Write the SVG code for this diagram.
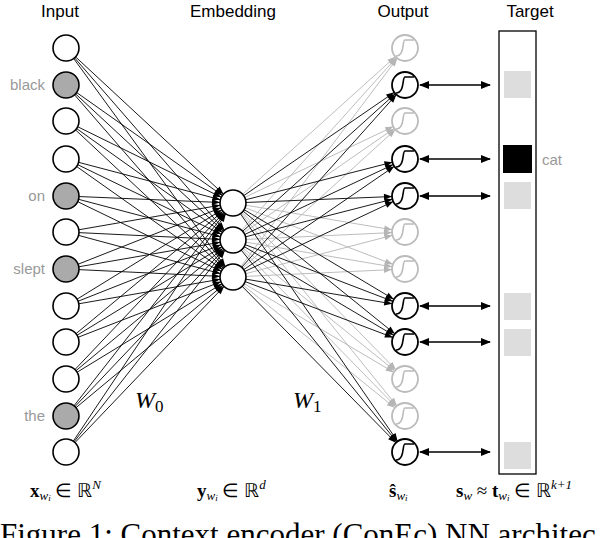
<svg xmlns="http://www.w3.org/2000/svg" width="606" height="538" viewBox="0 0 606 538">
<style>
.t{font-family:"Liberation Sans",Arial,sans-serif;font-size:17px;fill:#000;text-anchor:middle}
.w{font-family:"Liberation Sans",Arial,sans-serif;font-size:15px;fill:#999;}
.m{font-family:"Liberation Serif","Times New Roman",serif;fill:#000}
.k line{stroke:#000;stroke-width:0.9;marker-end:url(#ak)}
.g line{stroke:#b5b5b5;stroke-width:0.9;marker-end:url(#ag)}
.n{fill:#fff;stroke:#000;stroke-width:1.6}
.f{fill:#aaa;stroke:#000;stroke-width:1.6}
.ob{fill:#fff;stroke:#000;stroke-width:1.8}
.og{fill:#fff;stroke:#bbb;stroke-width:1.8}
.sb{fill:none;stroke:#000;stroke-width:1.6}
.sg{fill:none;stroke:#bbb;stroke-width:1.6}
.da{stroke:#000;stroke-width:1.4;marker-start:url(#d);marker-end:url(#d)}
</style>
<defs>
<marker id="ak" markerUnits="userSpaceOnUse" markerWidth="40" markerHeight="12" viewBox="0 -6 40 12" refX="40" refY="0" orient="auto" overflow="visible"><path d="M19,-3 L27,0 L19,3 z" fill="#000"/></marker>
<marker id="ag" markerUnits="userSpaceOnUse" markerWidth="40" markerHeight="12" viewBox="0 -6 40 12" refX="40" refY="0" orient="auto" overflow="visible"><path d="M19,-3 L27,0 L19,3 z" fill="#b5b5b5"/></marker>
<marker id="d" markerUnits="userSpaceOnUse" markerWidth="10" markerHeight="10" viewBox="0 -5 10 10" refX="9" refY="0" orient="auto-start-reverse"><path d="M0,-4 L10,0 L0,4 z" fill="#000"/></marker>
</defs>
<text class="t" x="60" y="17">Input</text>
<text class="t" x="233" y="17">Embedding</text>
<text class="t" x="403" y="17">Output</text>
<text class="t" x="530" y="17">Target</text>
<g id="connectors">
<g class="k">
<line x1="66" y1="48" x2="233" y2="203"/><line x1="66" y1="48" x2="233" y2="240"/><line x1="66" y1="48" x2="233" y2="277"/>
<line x1="66" y1="85" x2="233" y2="203"/><line x1="66" y1="85" x2="233" y2="240"/><line x1="66" y1="85" x2="233" y2="277"/>
<line x1="66" y1="121" x2="233" y2="203"/><line x1="66" y1="121" x2="233" y2="240"/><line x1="66" y1="121" x2="233" y2="277"/>
<line x1="66" y1="159" x2="233" y2="203"/><line x1="66" y1="159" x2="233" y2="240"/><line x1="66" y1="159" x2="233" y2="277"/>
<line x1="66" y1="196" x2="233" y2="203"/><line x1="66" y1="196" x2="233" y2="240"/><line x1="66" y1="196" x2="233" y2="277"/>
<line x1="66" y1="232" x2="233" y2="203"/><line x1="66" y1="232" x2="233" y2="240"/><line x1="66" y1="232" x2="233" y2="277"/>
<line x1="66" y1="269" x2="233" y2="203"/><line x1="66" y1="269" x2="233" y2="240"/><line x1="66" y1="269" x2="233" y2="277"/>
<line x1="66" y1="306" x2="233" y2="203"/><line x1="66" y1="306" x2="233" y2="240"/><line x1="66" y1="306" x2="233" y2="277"/>
<line x1="66" y1="342" x2="233" y2="203"/><line x1="66" y1="342" x2="233" y2="240"/><line x1="66" y1="342" x2="233" y2="277"/>
<line x1="66" y1="379" x2="233" y2="203"/><line x1="66" y1="379" x2="233" y2="240"/><line x1="66" y1="379" x2="233" y2="277"/>
<line x1="66" y1="416" x2="233" y2="203"/><line x1="66" y1="416" x2="233" y2="240"/><line x1="66" y1="416" x2="233" y2="277"/>
<line x1="66" y1="452" x2="233" y2="203"/><line x1="66" y1="452" x2="233" y2="240"/><line x1="66" y1="452" x2="233" y2="277"/>
</g>
<g class="g">
<line x1="233" y1="203" x2="405" y2="48"/><line x1="233" y1="240" x2="405" y2="48"/><line x1="233" y1="277" x2="405" y2="48"/>
<line x1="233" y1="203" x2="405" y2="121"/><line x1="233" y1="240" x2="405" y2="121"/><line x1="233" y1="277" x2="405" y2="121"/>
<line x1="233" y1="203" x2="405" y2="232"/><line x1="233" y1="240" x2="405" y2="232"/><line x1="233" y1="277" x2="405" y2="232"/>
<line x1="233" y1="203" x2="405" y2="269"/><line x1="233" y1="240" x2="405" y2="269"/><line x1="233" y1="277" x2="405" y2="269"/>
<line x1="233" y1="203" x2="405" y2="379"/><line x1="233" y1="240" x2="405" y2="379"/><line x1="233" y1="277" x2="405" y2="379"/>
<line x1="233" y1="203" x2="405" y2="416"/><line x1="233" y1="240" x2="405" y2="416"/><line x1="233" y1="277" x2="405" y2="416"/>
</g>
<g class="k">
<line x1="233" y1="203" x2="405" y2="85"/><line x1="233" y1="240" x2="405" y2="85"/><line x1="233" y1="277" x2="405" y2="85"/>
<line x1="233" y1="203" x2="405" y2="159"/><line x1="233" y1="240" x2="405" y2="159"/><line x1="233" y1="277" x2="405" y2="159"/>
<line x1="233" y1="203" x2="405" y2="196"/><line x1="233" y1="240" x2="405" y2="196"/><line x1="233" y1="277" x2="405" y2="196"/>
<line x1="233" y1="203" x2="405" y2="306"/><line x1="233" y1="240" x2="405" y2="306"/><line x1="233" y1="277" x2="405" y2="306"/>
<line x1="233" y1="203" x2="405" y2="342"/><line x1="233" y1="240" x2="405" y2="342"/><line x1="233" y1="277" x2="405" y2="342"/>
<line x1="233" y1="203" x2="405" y2="452"/><line x1="233" y1="240" x2="405" y2="452"/><line x1="233" y1="277" x2="405" y2="452"/>
</g>
<line class="da" x1="420" y1="85" x2="490" y2="85"/>
<line class="da" x1="420" y1="159" x2="490" y2="159"/>
<line class="da" x1="420" y1="196" x2="490" y2="196"/>
<line class="da" x1="420" y1="306" x2="490" y2="306"/>
<line class="da" x1="420" y1="342" x2="490" y2="342"/>
<line class="da" x1="420" y1="452" x2="490" y2="452"/>
</g>
<g id="input">
<circle class="n" cx="66" cy="48" r="13"/>
<circle class="f" cx="66" cy="85" r="13"/>
<circle class="n" cx="66" cy="121" r="13"/>
<circle class="n" cx="66" cy="159" r="13"/>
<circle class="f" cx="66" cy="196" r="13"/>
<circle class="n" cx="66" cy="232" r="13"/>
<circle class="f" cx="66" cy="269" r="13"/>
<circle class="n" cx="66" cy="306" r="13"/>
<circle class="n" cx="66" cy="342" r="13"/>
<circle class="n" cx="66" cy="379" r="13"/>
<circle class="f" cx="66" cy="416" r="13"/>
<circle class="n" cx="66" cy="452" r="13"/>
<text class="w" x="45" y="90" text-anchor="end">black</text>
<text class="w" x="45" y="201" text-anchor="end">on</text>
<text class="w" x="45" y="274" text-anchor="end">slept</text>
<text class="w" x="45" y="421" text-anchor="end">the</text>
</g>
<g id="embedding">
<circle class="n" cx="233" cy="203" r="13"/>
<circle class="n" cx="233" cy="240" r="13"/>
<circle class="n" cx="233" cy="277" r="13"/>
</g>
<g id="output">
<g transform="translate(405,48)"><circle class="og" r="13"/><path class="sg" d="M-9,8 C0,8 -3,-8 0,-8 C3,-8 3,-8 9,-8"/></g>
<g transform="translate(405,85)"><circle class="ob" r="13"/><path class="sb" d="M-9,8 C0,8 -3,-8 0,-8 C3,-8 3,-8 9,-8"/></g>
<g transform="translate(405,121)"><circle class="og" r="13"/><path class="sg" d="M-9,8 C0,8 -3,-8 0,-8 C3,-8 3,-8 9,-8"/></g>
<g transform="translate(405,159)"><circle class="ob" r="13"/><path class="sb" d="M-9,8 C0,8 -3,-8 0,-8 C3,-8 3,-8 9,-8"/></g>
<g transform="translate(405,196)"><circle class="ob" r="13"/><path class="sb" d="M-9,8 C0,8 -3,-8 0,-8 C3,-8 3,-8 9,-8"/></g>
<g transform="translate(405,232)"><circle class="og" r="13"/><path class="sg" d="M-9,8 C0,8 -3,-8 0,-8 C3,-8 3,-8 9,-8"/></g>
<g transform="translate(405,269)"><circle class="og" r="13"/><path class="sg" d="M-9,8 C0,8 -3,-8 0,-8 C3,-8 3,-8 9,-8"/></g>
<g transform="translate(405,306)"><circle class="ob" r="13"/><path class="sb" d="M-9,8 C0,8 -3,-8 0,-8 C3,-8 3,-8 9,-8"/></g>
<g transform="translate(405,342)"><circle class="ob" r="13"/><path class="sb" d="M-9,8 C0,8 -3,-8 0,-8 C3,-8 3,-8 9,-8"/></g>
<g transform="translate(405,379)"><circle class="og" r="13"/><path class="sg" d="M-9,8 C0,8 -3,-8 0,-8 C3,-8 3,-8 9,-8"/></g>
<g transform="translate(405,416)"><circle class="og" r="13"/><path class="sg" d="M-9,8 C0,8 -3,-8 0,-8 C3,-8 3,-8 9,-8"/></g>
<g transform="translate(405,452)"><circle class="ob" r="13"/><path class="sb" d="M-9,8 C0,8 -3,-8 0,-8 C3,-8 3,-8 9,-8"/></g>
</g>
<g id="target">
<rect x="499" y="31" width="37" height="443" fill="#fff" stroke="#000" stroke-width="1.3"/>
<rect x="504" y="71" width="27" height="27" fill="#ddd"/>
<rect x="503" y="145" width="29" height="28" fill="#000"/>
<rect x="504" y="182" width="27" height="27" fill="#ddd"/>
<rect x="504" y="293" width="27" height="27" fill="#ddd"/>
<rect x="504" y="329" width="27" height="27" fill="#ddd"/>
<rect x="504" y="442" width="27" height="27" fill="#ddd"/>
<text class="w" x="542" y="165">cat</text>
</g>
<g id="labels">
<text class="m" x="135" y="408" font-size="24" font-style="italic">W<tspan font-style="normal" font-size="17" dy="4">0</tspan></text>
<text class="m" x="293" y="408" font-size="24" font-style="italic">W<tspan font-style="normal" font-size="17" dy="4">1</tspan></text>
<text class="m" x="30" y="497" font-size="19"><tspan font-weight="bold">x</tspan><tspan font-style="italic" font-size="13" dy="3">w</tspan><tspan font-style="italic" font-size="9" dy="1">i</tspan><tspan dy="-4"> ∈ ℝ</tspan><tspan font-style="italic" font-size="13" dy="-8">N</tspan></text>
<text class="m" x="197" y="497" font-size="19"><tspan font-weight="bold">y</tspan><tspan font-style="italic" font-size="13" dy="3">w</tspan><tspan font-style="italic" font-size="9" dy="1">i</tspan><tspan dy="-4"> ∈ ℝ</tspan><tspan font-style="italic" font-size="13" dy="-8">d</tspan></text>
<text class="m" x="389" y="497" font-size="19"><tspan font-weight="bold">ŝ</tspan><tspan font-style="italic" font-size="13" dy="3">w</tspan><tspan font-style="italic" font-size="9" dy="1">i</tspan></text>
<text class="m" x="456" y="497" font-size="19"><tspan font-weight="bold">s</tspan><tspan font-style="italic" font-size="13" dy="3">w</tspan><tspan dy="-3"> ≈ </tspan><tspan font-weight="bold">t</tspan><tspan font-style="italic" font-size="13" dy="3">w</tspan><tspan font-style="italic" font-size="9" dy="1">i</tspan><tspan dy="-4"> ∈ ℝ</tspan><tspan font-style="italic" font-size="13" dy="-8">k+1</tspan></text>
<text class="m" x="0" y="545" font-size="31">Figure 1: Context encoder (ConEc) NN architec</text>
</g>
</svg>
